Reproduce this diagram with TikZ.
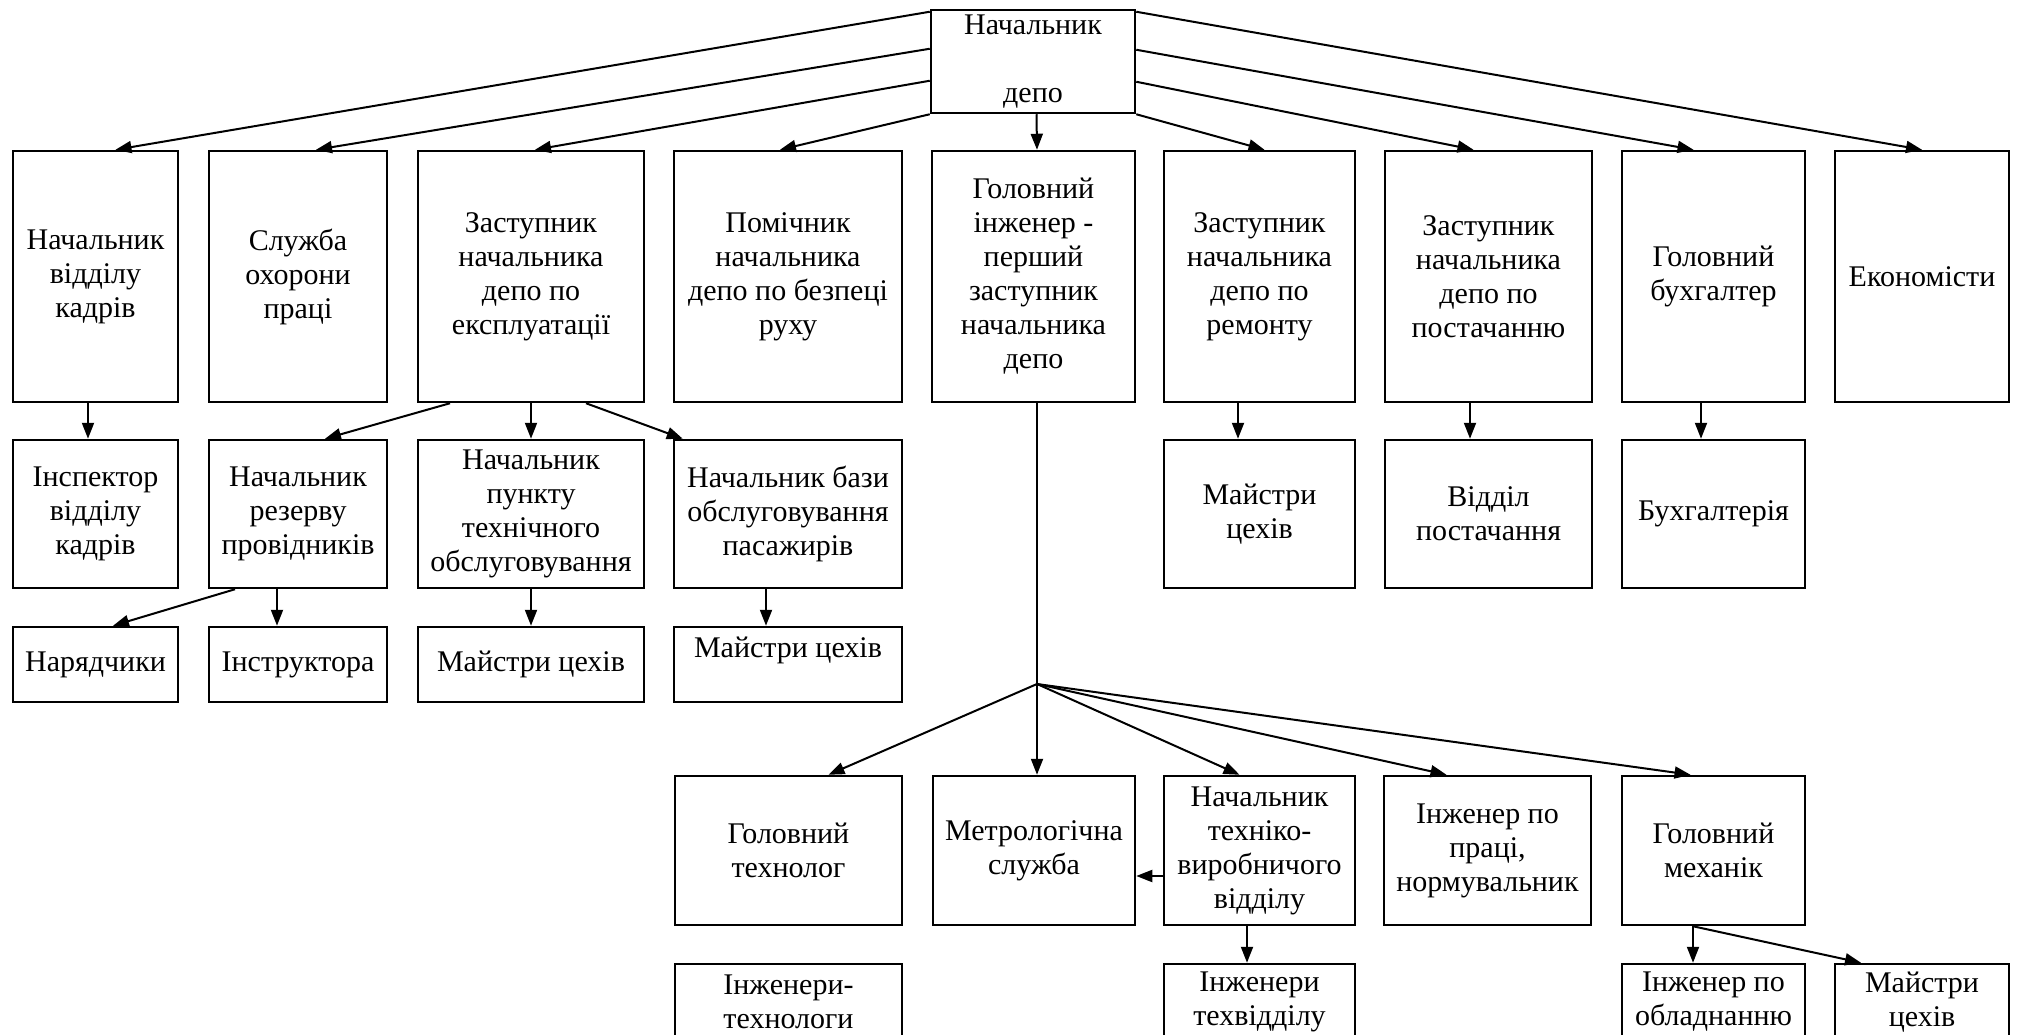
\documentclass[tikz,border=0pt]{standalone}
\usepackage{fontspec}
\setmainfont{Liberation Serif}
\usetikzlibrary{arrows.meta}

% box from corner (x1,y1) to corner (x2,y2)
\newcommand\orgbox[6]{%
  \node[box,minimum width=#4pt-#2pt,minimum height=#5pt-#3pt]
    (#1) at ({(#2+#4)/2},{(#3+#5)/2}) {#6};}

\begin{document}
\begin{tikzpicture}[x=1pt,y=-1pt,
    box/.style={draw,line width=2.5pt,inner sep=0pt,align=center,
      font=\fontsize{30}{34}\selectfont},
    arr/.style={line width=2pt,-{Triangle[length=16pt,width=12pt]}}]
\useasboundingbox (0,0) rectangle (2022,1035);
% top
\orgbox{boss}{931}{10}{1135}{113}{Начальник\\\mbox{}\\депо}
% first row
\orgbox{kadry}{13}{151}{178}{402}{Начальник\\відділу\\кадрів}
\orgbox{okhorona}{209}{151}{387}{402}{Служба\\охорони\\праці}
\orgbox{expl}{418}{151}{644}{402}{Заступник\\начальника\\депо по\\експлуатації}
\orgbox{bezpeka}{674}{151}{902}{402}{Помічник\\начальника\\депо по безпеці\\руху}
\orgbox{engineer}{932}{151}{1135}{402}{Головний\\інженер -\\перший\\заступник\\начальника\\депо}
\orgbox{remont}{1164}{151}{1355}{402}{Заступник\\начальника\\депо по\\ремонту}
\orgbox{postach}{1385}{151}{1592}{402}{Заступник\\начальника\\депо по\\постачанню}
\orgbox{buhgalter}{1622}{151}{1805}{402}{Головний\\бухгалтер}
\orgbox{ekonom}{1835}{151}{2009}{402}{Економісти}
% second row
\orgbox{inspektor}{13}{440}{178}{588}{Інспектор\\відділу\\кадрів}
\orgbox{reserv}{209}{440}{387}{588}{Начальник\\резерву\\провідників}
\orgbox{punkt}{418}{440}{644}{588}{Начальник\\пункту\\технічного\\обслуговування}
\orgbox{baza}{674}{440}{902}{588}{Начальник бази\\обслуговування\\пасажирів}
\orgbox{maistryR}{1164}{440}{1355}{588}{Майстри\\цехів}
\orgbox{viddil}{1385}{440}{1592}{588}{Відділ\\постачання}
\orgbox{buhg}{1622}{440}{1805}{588}{Бухгалтерія}
% third row
\orgbox{nariad}{13}{627}{178}{702}{Нарядчики}
\orgbox{instr}{209}{627}{387}{702}{Інструктора}
\orgbox{maistryP}{418}{627}{644}{702}{Майстри цехів}
\orgbox{maistryB}{674}{627}{902}{702}{Майстри цехів\\\mbox{}}
% fourth row
\orgbox{tekhnolog}{675}{776}{902}{925}{Головний\\технолог}
\orgbox{metro}{933}{776}{1135}{925}{Метрологічна\\служба}
\orgbox{tekhviddil}{1164}{776}{1355}{925}{Начальник\\техніко-\\виробничого\\відділу}
\orgbox{normuv}{1384}{776}{1591}{925}{Інженер по\\праці,\\нормувальник}
\orgbox{mekhanik}{1622}{776}{1805}{925}{Головний\\механік}
% fifth row (cut by the page)
\orgbox{inzhtekh}{675}{964}{902}{1040}{Інженери-\\технологи}
\orgbox{inzhtv}{1164}{964}{1355}{1040}{Інженери\\техвідділу}
\orgbox{obladn}{1622}{964}{1805}{1040}{Інженер по\\обладнанню}
\orgbox{maistryM}{1835}{964}{2009}{1040}{Майстри\\цехів}

% from the top
\draw[arr] ([yshift=-3pt]boss.north west) -- ([xshift=20pt]kadry.north);
\draw[arr] ([yshift=-40pt]boss.north west) -- ([xshift=18pt]okhorona.north);
\draw[arr] ([yshift=-72pt]boss.north west) -- ([xshift=4pt]expl.north);
\draw[arr] (boss.south west) -- ([xshift=-8pt]bezpeka.north);
\draw[arr] ([xshift=3.5pt]boss.south) -- ([xshift=3.5pt]engineer.north);
\draw[arr] (boss.south east) -- ([xshift=5pt]remont.north);
\draw[arr] ([yshift=-73pt]boss.north east) -- ([xshift=-15pt]postach.north);
\draw[arr] ([yshift=-41pt]boss.north east) -- ([xshift=-20pt]buhgalter.north);
\draw[arr] ([yshift=-3pt]boss.north east) -- (ekonom.north);

% second level
\draw[arr] ([xshift=-7.5pt]kadry.south) -- ([xshift=-7.5pt]inspektor.north);
\draw[arr] ([xshift=-81pt]expl.south) -- ([xshift=27pt]reserv.north);
\draw[arr] (expl.south) -- (punkt.north);
\draw[arr] ([xshift=55pt]expl.south) -- ([xshift=10pt]baza.north west);
\draw[arr] ([xshift=-21.5pt]remont.south) -- ([xshift=-21.5pt]maistryR.north);
\draw[arr] ([xshift=-18.5pt]postach.south) -- ([xshift=-18.5pt]viddil.north);
\draw[arr] ([xshift=-12.5pt]buhgalter.south) -- ([xshift=-12.5pt]buhg.north);

% third level
\draw[arr] ([xshift=-63pt]reserv.south) -- ([xshift=17.5pt]nariad.north);
\draw[arr] ([xshift=-21pt]reserv.south) -- ([xshift=-21pt]instr.north);
\draw[arr] (punkt.south) -- (maistryP.north);
\draw[arr] ([xshift=-22pt]baza.south) -- ([xshift=-22pt]maistryB.north);

% chief engineer
\coordinate (hub) at (1037,684);
\draw[line width=2pt] ([xshift=3.5pt]engineer.south) -- (hub);
\draw[arr] (hub) -- ([xshift=40pt]tekhnolog.north);
\draw[arr] (hub) -- (hub |- metro.north);
\draw[arr] (hub) -- ([xshift=-20pt]tekhviddil.north);
\draw[arr] (hub) -- ([xshift=-41pt]normuv.north);
\draw[arr] (hub) -- ([xshift=-23pt]mekhanik.north);
\draw[arr] ([yshift=-25.5pt]tekhviddil.west) -- ([yshift=-25.5pt]metro.east);
\draw[arr] ([xshift=-12.5pt]tekhviddil.south) -- ([xshift=-12.5pt]inzhtv.north);
\draw[arr] ([xshift=-20.5pt]mekhanik.south) -- ([xshift=-20.5pt]obladn.north);
\draw[arr] ([xshift=-20.5pt]mekhanik.south) -- ([xshift=-61pt]maistryM.north);
\end{tikzpicture}
\end{document}
